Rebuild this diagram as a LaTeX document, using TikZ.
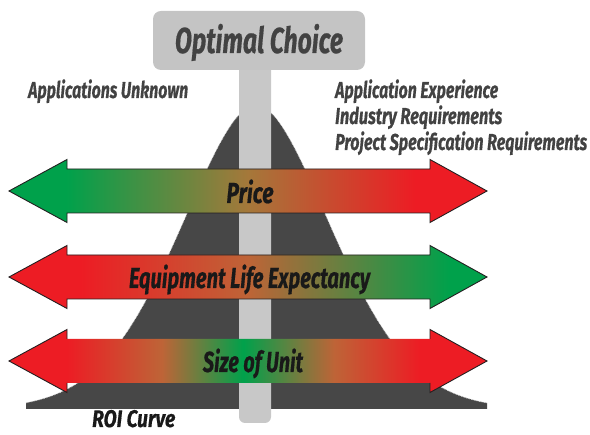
\documentclass[tikz,border=0pt]{standalone}
\usepackage{fontspec}
\usepackage{graphicx}
\newfontfamily\labfont{Fira Sans}[BoldItalicFeatures={FakeBold=0.6}]
\newcommand{\fitw}[2]{\resizebox{#1}{\height}{#2}}
\definecolor{cgreen}{RGB}{0,161,75}
\definecolor{cred}{RGB}{237,28,36}
\definecolor{cmid}{RGB}{165,120,58}
\definecolor{cmidb}{RGB}{190,100,55}
\definecolor{roifill}{RGB}{71,71,71}
\definecolor{stemgray}{RGB}{200,200,200}
\definecolor{boxgray}{RGB}{196,196,196}
\definecolor{txtgray}{RGB}{66,66,66}
\definecolor{outl}{RGB}{35,31,32}
\pgfdeclarehorizontalshading{priceshade}{100bp}{color(0bp)=(cgreen); color(31bp)=(cgreen); color(50bp)=(cmid); color(67.5bp)=(cred); color(100bp)=(cred)}
\pgfdeclarehorizontalshading{lifeshade}{100bp}{color(0bp)=(cred); color(32.5bp)=(cred); color(50bp)=(cmidb); color(71bp)=(cgreen); color(100bp)=(cgreen)}
\pgfdeclarehorizontalshading{sizeshade}{100bp}{color(0bp)=(cred); color(31bp)=(cred); color(41bp)=(cmidb); color(49.5bp)=(cgreen); color(59bp)=(cmidb); color(68bp)=(cred); color(100bp)=(cred)}
\newcommand{\dblarrow}[1]{(9,#1) -- (67,#1-31.5) -- (67,#1-22) -- (430,#1-22) -- (430,#1-31.5) -- (487,#1) -- (430,#1+31.5) -- (430,#1+22) -- (67,#1+22) -- (67,#1+31.5) -- cycle}
\begin{document}
\begin{tikzpicture}[x=1pt,y=-1pt,
  darktext/.style={inner sep=0pt, text=txtgray, font=\labfont\bfseries\itshape\fontsize{23}{26}\selectfont},
  arrowtext/.style={inner sep=0pt, text=black!90, font=\labfont\bfseries\itshape\fontsize{29}{32}\selectfont},
  arrowline/.style={draw=outl, line width=0.9pt, line join=miter},
  curveedge/.style={draw=white!70!gray, densely dotted, line width=0.7pt}]
\useasboundingbox (0,0) rectangle (590,435);
% ROI curve
\fill[roifill] (26,409) -- plot[domain=-230:231, samples=120, smooth] ({256+\x}, {409-305*exp(-pow(abs(\x/100)+0.0001,1.8)/1.15)}) -- (487,409) -- cycle;
\draw[curveedge] plot[domain=-230:231, samples=120, smooth] ({256+\x}, {409-305*exp(-pow(abs(\x/100)+0.0001,1.8)/1.15)});
% stem
\fill[stemgray, rounded corners=6pt] (239,60) -- (239,423) -- (271,423) -- (271,60) -- cycle;
% box
\node[fill=boxgray, rounded corners=8pt, minimum width=212pt, minimum height=59pt, inner sep=0pt,
      text height=25pt, text depth=0pt, text=txtgray,
      font=\labfont\bfseries\itshape\fontsize{36}{40}\selectfont] (optimal) at (259,40.5) {\fitw{168pt}{Optimal Choice}};
% arrows
\shade[shading=priceshade] \dblarrow{191};
\draw[arrowline] \dblarrow{191};
\shade[shading=lifeshade] \dblarrow{277};
\draw[arrowline] \dblarrow{277};
\shade[shading=sizeshade] \dblarrow{361};
\draw[arrowline] (67,361-22) -- (67,361-31.5) -- (9,361) -- (67,361+31.5) -- (67,361+22);
\draw[arrowline] (430,361-22) -- (430,361-31.5) -- (487,361) -- (430,361+31.5) -- (430,361+22);
% labels
\node[darktext, anchor=base west] (unknown) at (28,98) {\fitw{160pt}{Applications Unknown}};
\node[darktext, anchor=base west] (exper) at (335,98) {\fitw{163pt}{Application Experience}};
\node[darktext, anchor=base west] (industry) at (335,124) {\fitw{167pt}{Industry Requirements}};
\node[darktext, anchor=base west] (project) at (335,150) {\fitw{252pt}{Project Specification Requirements}};
\node[arrowtext, anchor=base] (price) at (250,203) {\fitw{47pt}{Price}};
\node[arrowtext, anchor=base] (life) at (249.5,288) {\fitw{241pt}{Equipment Life Expectancy}};
\node[arrowtext, anchor=base] (size) at (253,372) {\fitw{100pt}{Size of Unit}};
\node[arrowtext, anchor=base west, font=\labfont\bfseries\itshape\fontsize{24}{27}\selectfont] (roi) at (92,427) {\fitw{83pt}{ROI Curve}};
\end{tikzpicture}
\end{document}
